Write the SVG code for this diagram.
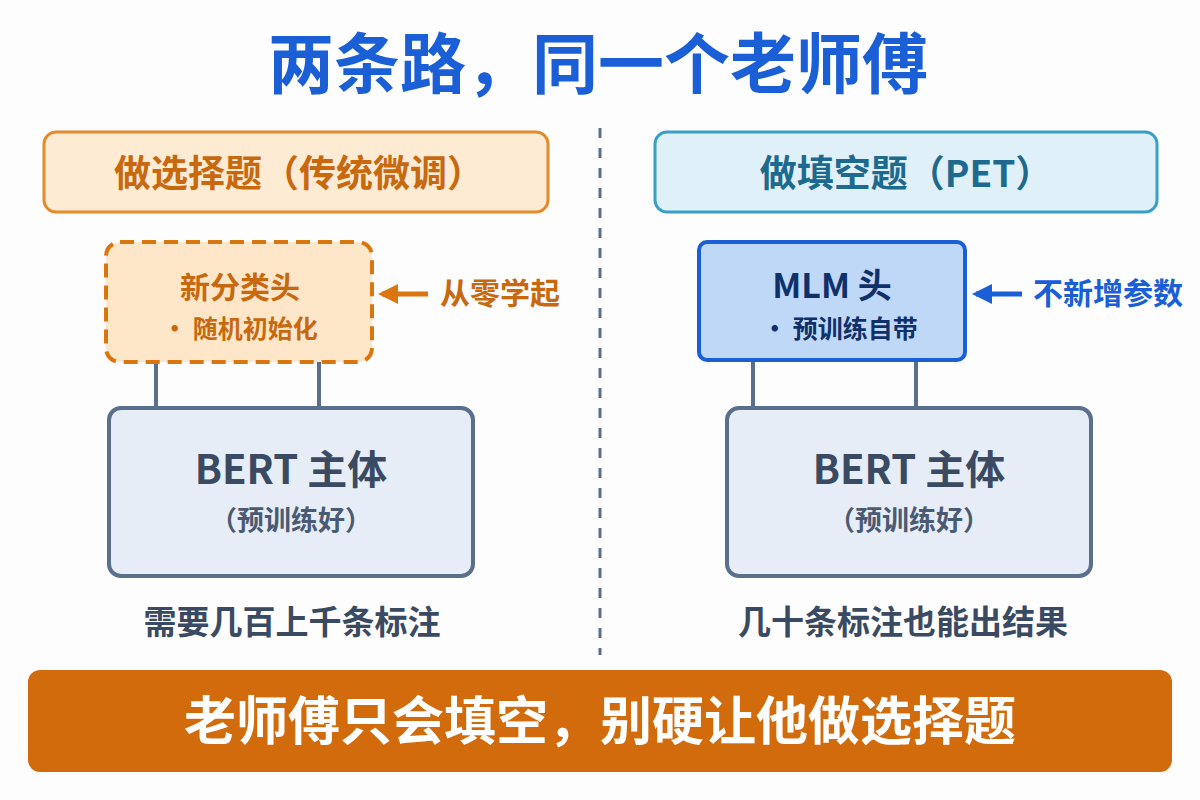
<svg xmlns="http://www.w3.org/2000/svg" width="1200" height="800" viewBox="0 0 1200 800">
<style>
text{font-family:"Noto Sans CJK SC","Noto Sans",sans-serif;font-weight:700;text-anchor:middle}
.org{fill:#c8690f}.blu{fill:#1a5fd6}.gry{fill:#3a4a63}
.conn{stroke:#5a6f8c;stroke-width:4}
</style>
<defs>
<marker id="ao" viewBox="0 0 10 10" refX="8" refY="5" markerWidth="4" markerHeight="4" orient="auto"><path d="M0,0 L10,5 L0,10 z" fill="#d9760f"/></marker>
<marker id="ab" viewBox="0 0 10 10" refX="8" refY="5" markerWidth="4" markerHeight="4" orient="auto"><path d="M0,0 L10,5 L0,10 z" fill="#1a5fd6"/></marker>
</defs>
<rect width="1200" height="800" fill="#fdfdfd"/>
<text x="598" y="88" font-size="66" fill="#1a5fd6">两条路，同一个老师傅</text>
<line x1="600" y1="128" x2="600" y2="655" stroke="#5a6f8c" stroke-width="3" stroke-dasharray="10,10"/>
<g id="left-title"><rect x="44" y="132" width="504" height="80" rx="12" fill="#fdebd3" stroke="#e38a2c" stroke-width="3"/><text x="299" y="187" font-size="37" class="org">做选择题（传统微调）</text></g>
<g id="right-title"><rect x="655" y="132" width="502" height="80" rx="12" fill="#dff0f8" stroke="#3a9fc6" stroke-width="3"/><text x="906" y="187" font-size="37" fill="#1e6a8e">做填空题（PET）</text></g>
<g id="connectors">
<line class="conn" x1="156" y1="362" x2="156" y2="408"/><line class="conn" x1="319" y1="362" x2="319" y2="408"/>
<line class="conn" x1="753" y1="360" x2="753" y2="408"/><line class="conn" x1="916" y1="360" x2="916" y2="408"/>
<line x1="428" y1="294" x2="382" y2="294" stroke="#d9760f" stroke-width="5" marker-end="url(#ao)"/>
<line x1="1022" y1="294" x2="976" y2="294" stroke="#1a5fd6" stroke-width="5" marker-end="url(#ab)"/>
</g>
<g id="new-head"><rect x="106" y="242" width="266" height="120" rx="14" fill="#fde7c8" stroke="#d9760f" stroke-width="4" stroke-dasharray="14,8"/><text x="240" y="298" font-size="30" class="org">新分类头</text><text x="240" y="338" font-size="25" class="org">• 随机初始化</text></g>
<text x="500" y="304" font-size="30" class="org">从零学起</text>
<g id="mlm-head"><rect x="699" y="242" width="266" height="118" rx="8" fill="#bfd8f8" stroke="#1a5fd6" stroke-width="4"/><text x="832" y="298" font-size="34" fill="#10306a">MLM 头</text><text x="840" y="338" font-size="25" fill="#10306a">• 预训练自带</text></g>
<text x="1108" y="304" font-size="30" class="blu">不新增参数</text>
<g id="bert-left"><rect x="109" y="408" width="364" height="168" rx="12" fill="#e6edf6" stroke="#5a6f8c" stroke-width="4"/><text x="291" y="484" font-size="40" class="gry">BERT 主体</text><text x="291" y="530" font-size="27" fill="#4a5a73">（预训练好）</text></g>
<g id="bert-right"><rect x="727" y="408" width="364" height="168" rx="12" fill="#e6edf6" stroke="#5a6f8c" stroke-width="4"/><text x="909" y="484" font-size="40" class="gry">BERT 主体</text><text x="909" y="530" font-size="27" fill="#4a5a73">（预训练好）</text></g>
<text x="292" y="634" font-size="33" class="gry">需要几百上千条标注</text>
<text x="903" y="634" font-size="33" class="gry">几十条标注也能出结果</text>
<g id="banner"><rect x="28" y="670" width="1144" height="102" rx="12" fill="#d26b0b"/><text x="600" y="740" font-size="52" fill="#fff">老师傅只会填空，别硬让他做选择题</text></g>
</svg>
